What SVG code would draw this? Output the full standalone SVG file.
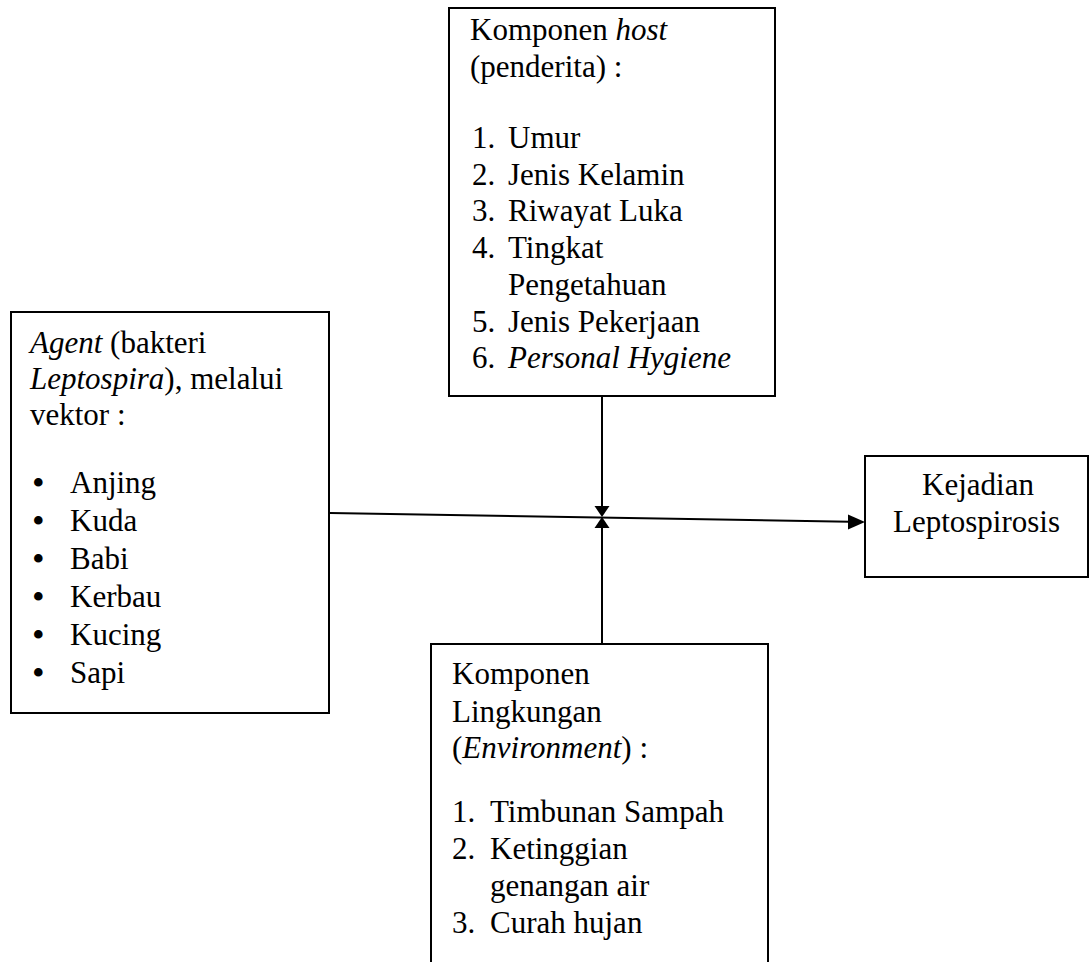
<svg xmlns="http://www.w3.org/2000/svg" width="1090" height="962" viewBox="0 0 1090 962">
<style>
.box{fill:#fff;stroke:#000;stroke-width:2}
text{font-family:'Liberation Serif','Tinos','Times New Roman','DejaVu Serif',serif;font-size:31px;fill:#000}
.i{font-style:italic}
.b{font-size:36px}
.c{stroke:#000;stroke-width:2;fill:none}
</style>
<rect width="1090" height="962" fill="#fff"/>
<g id="connectors">
<line class="c" x1="330" y1="513" x2="850" y2="521.8"/>
<polygon points="865,522 848,514.5 848,529.5" fill="#000"/>
<line class="c" x1="602" y1="396" x2="602" y2="507"/>
<polygon points="602,517 594.5,506 609.5,506" fill="#000"/>
<line class="c" x1="602" y1="644" x2="602" y2="527"/>
<polygon points="602,517 594.5,528 609.5,528" fill="#000"/>
</g>
<g id="host" font-family="Liberation Serif, serif">
<rect class="box" x="449" y="8" width="326" height="388"/>
<text x="470" y="40">Komponen <tspan class="i">host</tspan></text>
<text x="470" y="76.5">(penderita) :</text>
<text x="472" y="148">1.</text><text x="508" y="148">Umur</text>
<text x="472" y="184.7">2.</text><text x="508" y="184.7">Jenis Kelamin</text>
<text x="472" y="221.4">3.</text><text x="508" y="221.4">Riwayat Luka</text>
<text x="472" y="258">4.</text><text x="508" y="258">Tingkat</text>
<text x="508" y="294.8">Pengetahuan</text>
<text x="472" y="331.5">5.</text><text x="508" y="331.5">Jenis Pekerjaan</text>
<text x="472" y="368">6.</text><text class="i" x="508" y="368">Personal Hygiene</text>
</g>
<g id="agent">
<rect class="box" x="11" y="312" width="318" height="401"/>
<text x="30" y="353"><tspan class="i">Agent</tspan> (bakteri</text>
<text x="30" y="389"><tspan class="i">Leptospira</tspan>), melalui</text>
<text x="30" y="425">vektor :</text>
<text class="b" x="32" y="495">•</text><text x="70" y="493">Anjing</text>
<text class="b" x="32" y="533">•</text><text x="70" y="531">Kuda</text>
<text class="b" x="32" y="571">•</text><text x="70" y="569">Babi</text>
<text class="b" x="32" y="609">•</text><text x="70" y="607">Kerbau</text>
<text class="b" x="32" y="647">•</text><text x="70" y="645">Kucing</text>
<text class="b" x="32" y="685">•</text><text x="70" y="683">Sapi</text>
</g>
<g id="kejadian">
<rect class="box" x="865" y="456" width="223" height="121"/>
<text x="978" y="495" text-anchor="middle">Kejadian</text>
<text x="976.5" y="532" text-anchor="middle">Leptospirosis</text>
</g>
<g id="environment">
<path class="box" d="M431,964 V644 H768 V964"/>
<text x="452" y="684">Komponen</text>
<text x="452" y="721.5">Lingkungan</text>
<text x="452" y="758">(<tspan class="i">Environment</tspan>) :</text>
<text x="452" y="822">1.</text><text x="490" y="822">Timbunan Sampah</text>
<text x="452" y="858.5">2.</text><text x="490" y="858.5">Ketinggian</text>
<text x="490" y="895.5">genangan air</text>
<text x="452" y="933">3.</text><text x="490" y="933">Curah hujan</text>
</g>
</svg>
